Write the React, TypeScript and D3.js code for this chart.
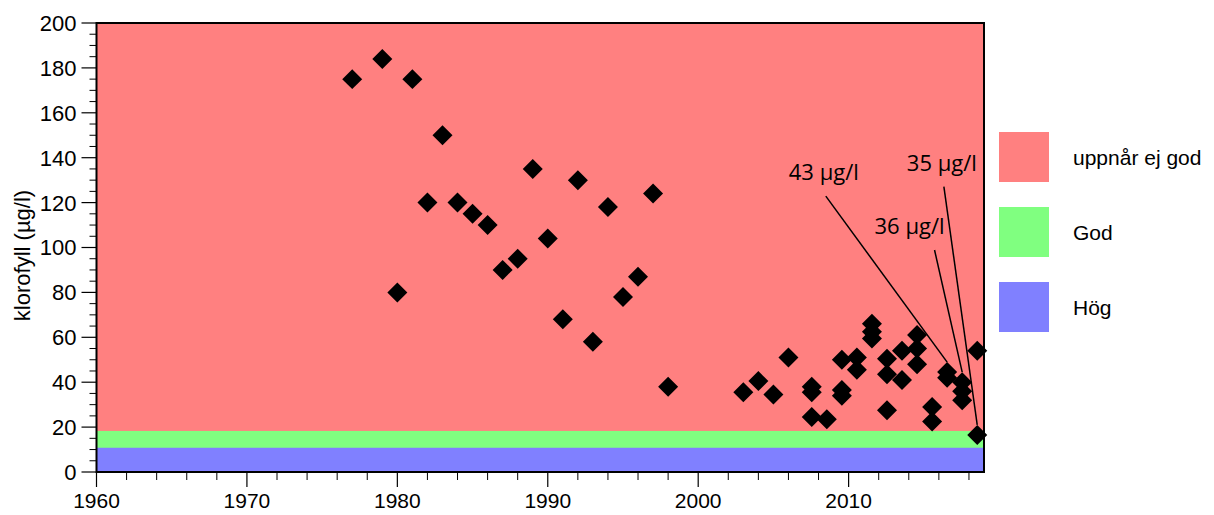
import React from 'react';
import * as d3 from 'd3';

// sample years (decimal) and klorofyll values (µg/l)
const years = [
  1977, 1979, 1980, 1981, 1982, 1983, 1984, 1985, 1986, 1987, 1988, 1989, 1990, 1991, 1992,
  1993, 1994, 1995, 1996, 1997, 1998, 2003, 2004, 2005, 2006,
  2007.55, 2007.55, 2007.55, 2008.55, 2009.55, 2009.55, 2009.55, 2010.55, 2010.55,
  2011.55, 2011.55, 2011.55, 2012.55, 2012.55, 2012.55, 2013.55, 2013.55,
  2014.55, 2014.55, 2014.55, 2015.55, 2015.55, 2016.55, 2016.55,
  2017.55, 2017.55, 2017.55, 2018.55, 2018.55,
];
const values = [
  175, 184, 80, 175, 120, 150, 120, 115, 110, 90, 95, 135, 104, 68, 130,
  58, 118, 78, 87, 124, 38, 35.5, 40.5, 34.5, 51,
  38, 35.5, 24.5, 23.5, 50, 36.5, 34, 51, 45.5,
  66, 62.5, 59.5, 50.5, 43.5, 27.5, 54, 41,
  61, 55, 48, 29, 22.5, 44.5, 42,
  40, 36, 32, 54, 16.5,
];

// status classes (upper limits)
const classNames = ['uppnår ej god', 'God', 'Hög'];
const classColors = ['#ff8080', '#80ff80', '#8080ff'];
const classUpper = [200, 18.3, 10.8];

// annotations
const annoLabels = ['43 µg/l', '36 µg/l', '35 µg/l'];
const annoPointYear = [2016.55, 2017.55, 2018.55];
const annoPointValue = [44.5, 40, 16.5];

const xTicksMajor = [1960, 1970, 1980, 1990, 2000, 2010];
const yTicksMajor = [0, 20, 40, 60, 80, 100, 120, 140, 160, 180, 200];

const W = 1214;
const H = 515;
const m = { left: 96.5, right: 984, top: 23, bottom: 472 };

// label layout for annotations (text centre in data units)
const annoTextPos = [
  [2008.35, 130],
  [2014.05, 106],
  [2016.2, 134.2],
];

const App = () => {
  const x = d3.scaleLinear().domain([1960, 2019]).range([m.left, m.right]);
  const y = d3.scaleLinear().domain([0, 200]).range([m.bottom, m.top]);

  const minorX = d3.range(1960, 2019, 2).filter(v => v % 10 !== 0);
  const minorY = d3.range(0, 201, 5).filter(v => v % 20 !== 0);
  const diamond = d3.symbol(d3.symbolSquare, 200)();
  const font = '"Liberation Sans", Arial, sans-serif';

  return (
    <svg width={W} height={H} style={{ position: 'absolute', left: 0, top: 0, background: '#fff' }}>
      {/* bands */}
      {classUpper.map((u, i) => (
        <rect key={i} x={m.left} width={m.right - m.left} y={y(u)} height={y(0) - y(u)} fill={classColors[i]} />
      ))}

      {/* y ticks */}
      {minorY.map(v => (
        <line key={'my' + v} x1={m.left - 7} x2={m.left} y1={y(v)} y2={y(v)} stroke="#000" strokeWidth={1} />
      ))}
      {yTicksMajor.map(v => (
        <g key={'y' + v}>
          <line x1={m.left - 15} x2={m.left} y1={y(v)} y2={y(v)} stroke="#000" strokeWidth={1.2} />
          <text x={m.left - 20} y={y(v)} dy="0.36em" textAnchor="end" fontFamily={font} fontSize={22}>{v}</text>
        </g>
      ))}

      {/* x ticks */}
      {minorX.map(v => (
        <line key={'mx' + v} x1={x(v)} x2={x(v)} y1={m.bottom} y2={m.bottom + 8} stroke="#000" strokeWidth={1} />
      ))}
      {xTicksMajor.map(v => (
        <g key={'x' + v}>
          <line x1={x(v)} x2={x(v)} y1={m.bottom} y2={m.bottom + 15} stroke="#000" strokeWidth={1.2} />
          <text x={x(v)} y={508} textAnchor="middle" fontFamily={font} fontSize={21}>{v}</text>
        </g>
      ))}

      <text transform={`translate(30,${(m.top + m.bottom) / 2 + 8}) rotate(-90)`} textAnchor="middle" fontFamily={font} fontSize={22}>
        klorofyll (µg/l)
      </text>

      {/* frame */}
      <rect x={m.left} y={m.top} width={m.right - m.left} height={m.bottom - m.top} fill="none" stroke="#000" strokeWidth={2} />

      {/* annotation lines */}
      {annoLabels.map((lab, i) => {
        const tx = x(annoTextPos[i][0]);
        const ty = y(annoTextPos[i][1]);
        const px = x(annoPointYear[i]);
        const py = y(annoPointValue[i]) - 10;
        return (
          <g key={'a' + i}>
            <line x1={tx + (i === 1 ? 25 : 2)} y1={ty + 16} x2={px} y2={py} stroke="#000" strokeWidth={1.5} />
            <text x={tx} y={ty} textAnchor="middle" fontFamily='"Open Sans", sans-serif' fontSize={22}>{lab}</text>
          </g>
        );
      })}

      {/* points */}
      {years.map((yr, i) => (
        <path key={'p' + i} d={diamond} transform={`translate(${x(yr)},${y(values[i])}) rotate(45)`} fill="#000" />
      ))}

      {/* legend */}
      {classNames.map((n, i) => (
        <g key={'l' + i} transform={`translate(999,${132 + i * 75})`}>
          <rect width={50} height={50} fill={classColors[i]} />
          <text x={74} y={25} dy="0.36em" fontFamily={font} fontSize={21}>{n}</text>
        </g>
      ))}
    </svg>
  );
};

export default App;
